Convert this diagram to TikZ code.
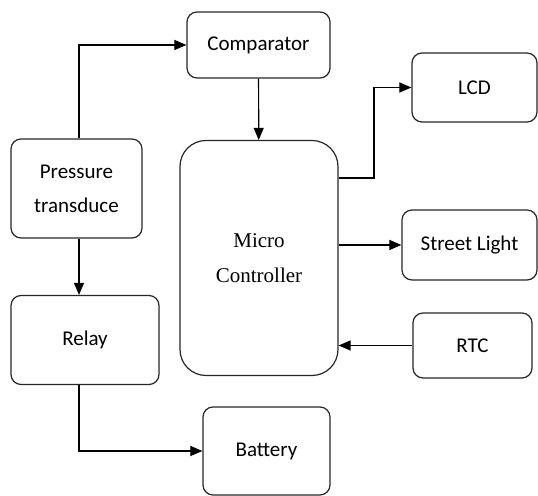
\documentclass[tikz,border=0pt]{standalone}
\usepackage{fontspec}
\setmainfont{Carlito}
\newfontfamily\mcschrift{Liberation Serif}
\usetikzlibrary{arrows.meta}

\begin{document}
\begin{tikzpicture}[x=0.5pt, y=-0.5pt, font={\fontsize{10.5}{17}\selectfont},
    block/.style={draw=black!85, line width=0.6pt, rounded corners=5pt,
      inner sep=0pt, align=center},
    pfeil/.style={draw=black, line width=0.6pt,
      -{Triangle[length=6pt, width=5pt]}},
  ]
  \useasboundingbox (0,0) rectangle (538,496);

  % Bloecke (Mittelpunkt in Pixeln des Vorbilds)
  \node[block, minimum width=71.5pt, minimum height=33pt] (komparator) at (258.5,45) {Comparator};
  \node[block, minimum width=65.5pt, minimum height=49.5pt] (sensor) at (76.5,188.5) {Pressure\\transduce};
  \node[block, minimum width=79pt, minimum height=117.5pt, rounded corners=13pt,
    font={\mcschrift\fontsize{10.5}{17.5}\selectfont}] (mikro) at (259,258) {Micro\\Controller};
  \node[block, minimum width=74pt, minimum height=44.5pt] (relais) at (85,340) {Relay};
  \node[block, minimum width=63.5pt, minimum height=44pt] (akku) at (266.5,451) {Battery};
  \node[block, minimum width=62.5pt, minimum height=34.5pt] (lcd) at (474.5,87.5) {LCD};
  \node[block, minimum width=67.5pt, minimum height=35pt] (licht) at (469.5,245) {Street Light};
  \node[block, minimum width=59.5pt, minimum height=32.5pt] (rtc) at (472.5,345.5) {RTC};

  % Verbindungen
  \coordinate (knick) at (374,178);
  \coordinate (links) at (79,0);
  \draw[pfeil] (sensor.north -| links) |- (komparator.west);
  \draw[pfeil] (komparator) -- (mikro);
  \draw[pfeil] (sensor.south -| links) -- (relais.north -| links);
  \draw[pfeil] (relais.south -| links) |- (akku.west);
  \draw[pfeil] (mikro.east |- knick) -- (knick) |- (lcd.west);
  \draw[pfeil] (mikro.east |- licht) -- (licht);
  \draw[pfeil] (rtc) -- (mikro.east |- rtc);
\end{tikzpicture}
\end{document}
